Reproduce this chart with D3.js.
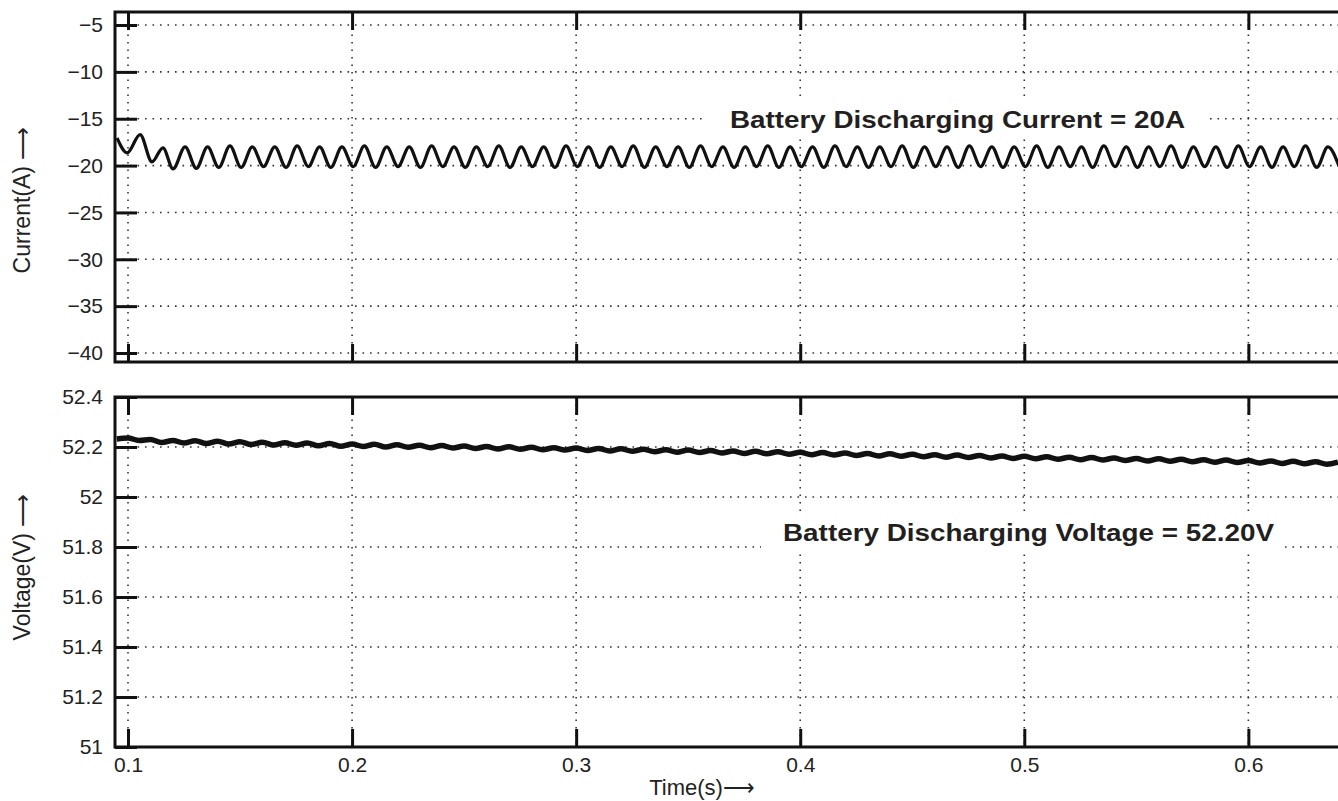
<!DOCTYPE html>
<html>
<head>
<meta charset="utf-8">
<script src="https://cdn.jsdelivr.net/npm/d3@7"></script>
<style>
  body { margin: 0; background: #fff; }
  svg { display: block; font-family: "Liberation Sans", Arial, Helvetica, sans-serif; }
</style>
</head>
<body>
<div id="chart"></div>
<script>
// Time ticks
const timeTicks = [0.1, 0.2, 0.3, 0.4, 0.5, 0.6];
const currentTicks = [-5, -10, -15, -20, -25, -30, -35, -40];
const voltageTicks = [52.4, 52.2, 52, 51.8, 51.6, 51.4, 51.2, 51];
const voltageGrid = [52.2, 52, 51.8, 51.6, 51.4, 51.2];

// Battery current: read at the peaks and troughs of the ripple
const currentTime = [
  0.0951, 0.0996, 0.1054, 0.1107, 0.1156, 0.1201,
  0.1255, 0.1305, 0.1355, 0.1405, 0.1455, 0.1505, 0.1555, 0.1605, 0.1655, 0.1705,
  0.1755, 0.1805, 0.1855, 0.1905, 0.1955, 0.2005, 0.2055, 0.2105, 0.2155, 0.2205,
  0.2255, 0.2305, 0.2355, 0.2405, 0.2455, 0.2505, 0.2555, 0.2605, 0.2655, 0.2705,
  0.2755, 0.2805, 0.2855, 0.2905, 0.2955, 0.3005, 0.3055, 0.3105, 0.3155, 0.3205,
  0.3255, 0.3305, 0.3355, 0.3405, 0.3455, 0.3505, 0.3555, 0.3605, 0.3655, 0.3705,
  0.3755, 0.3805, 0.3855, 0.3905, 0.3955, 0.4005, 0.4055, 0.4105, 0.4155, 0.4205,
  0.4255, 0.4305, 0.4355, 0.4405, 0.4455, 0.4505, 0.4555, 0.4605, 0.4655, 0.4705,
  0.4755, 0.4805, 0.4855, 0.4905, 0.4955, 0.5005, 0.5055, 0.5105, 0.5155, 0.5205,
  0.5255, 0.5305, 0.5355, 0.5405, 0.5455, 0.5505, 0.5555, 0.5605, 0.5655, 0.5705,
  0.5755, 0.5805, 0.5855, 0.5905, 0.5955, 0.6005, 0.6055, 0.6105, 0.6155, 0.6205,
  0.6255, 0.6305, 0.6355, 0.6405
];
const currentValue = [
  -17.05, -18.65, -16.7, -19.6, -18.1, -20.35,
  -18.0, -20.3, -18.0, -20.2, -17.9, -20.2, -18.0, -20.1, -18.0, -20.2,
  -17.9, -20.1, -18.0, -20.2, -18.0, -20.1, -17.9, -20.2, -18.0, -20.1,
  -18.0, -20.2, -17.9, -20.1, -18.0, -20.2, -18.0, -20.1, -17.9, -20.2,
  -18.0, -20.1, -18.0, -20.2, -17.9, -20.1, -18.0, -20.2, -18.0, -20.1,
  -17.9, -20.2, -18.0, -20.1, -18.0, -20.2, -17.9, -20.1, -18.0, -20.2,
  -18.0, -20.1, -17.9, -20.2, -18.0, -20.1, -18.0, -20.2, -17.9, -20.1,
  -18.0, -20.2, -18.0, -20.1, -17.9, -20.2, -18.0, -20.1, -18.0, -20.2,
  -17.9, -20.1, -18.0, -20.2, -18.0, -20.1, -17.9, -20.2, -18.0, -20.1,
  -18.0, -20.2, -17.9, -20.1, -18.0, -20.2, -18.0, -20.1, -17.9, -20.2,
  -18.0, -20.1, -18.0, -20.2, -17.9, -20.1, -18.0, -20.2, -18.0, -20.1,
  -17.9, -20.2, -18.0, -20.1
];

// Battery voltage: slow droop with a small ripple
const voltageTime = [
  0.095, 0.100, 0.105, 0.110, 0.115, 0.120, 0.125, 0.130, 0.135, 0.140,
  0.145, 0.150, 0.155, 0.160, 0.165, 0.170, 0.175, 0.180, 0.185, 0.190,
  0.195, 0.200, 0.205, 0.210, 0.215, 0.220, 0.225, 0.230, 0.235, 0.240,
  0.245, 0.250, 0.255, 0.260, 0.265, 0.270, 0.275, 0.280, 0.285, 0.290,
  0.295, 0.300, 0.305, 0.310, 0.315, 0.320, 0.325, 0.330, 0.335, 0.340,
  0.345, 0.350, 0.355, 0.360, 0.365, 0.370, 0.375, 0.380, 0.385, 0.390,
  0.395, 0.400, 0.405, 0.410, 0.415, 0.420, 0.425, 0.430, 0.435, 0.440,
  0.445, 0.450, 0.455, 0.460, 0.465, 0.470, 0.475, 0.480, 0.485, 0.490,
  0.495, 0.500, 0.505, 0.510, 0.515, 0.520, 0.525, 0.530, 0.535, 0.540,
  0.545, 0.550, 0.555, 0.560, 0.565, 0.570, 0.575, 0.580, 0.585, 0.590,
  0.595, 0.600, 0.605, 0.610, 0.615, 0.620, 0.625, 0.630, 0.635, 0.640
];
const voltageValue = [
  52.232, 52.236, 52.226, 52.230, 52.218, 52.226, 52.216, 52.225, 52.214, 52.223,
  52.212, 52.221, 52.210, 52.219, 52.208, 52.217, 52.207, 52.216, 52.205, 52.214,
  52.203, 52.212, 52.202, 52.211, 52.200, 52.209, 52.199, 52.207, 52.197, 52.206,
  52.196, 52.204, 52.194, 52.202, 52.192, 52.201, 52.191, 52.199, 52.189, 52.197,
  52.188, 52.196, 52.186, 52.194, 52.184, 52.193, 52.183, 52.191, 52.181, 52.189,
  52.179, 52.188, 52.178, 52.186, 52.176, 52.184, 52.174, 52.183, 52.173, 52.181,
  52.171, 52.179, 52.169, 52.178, 52.168, 52.176, 52.166, 52.174, 52.164, 52.173,
  52.163, 52.171, 52.161, 52.169, 52.159, 52.168, 52.158, 52.166, 52.156, 52.164,
  52.154, 52.163, 52.153, 52.161, 52.151, 52.159, 52.149, 52.158, 52.148, 52.156,
  52.146, 52.154, 52.144, 52.153, 52.143, 52.151, 52.141, 52.149, 52.139, 52.148,
  52.138, 52.146, 52.136, 52.144, 52.134, 52.143, 52.133, 52.141, 52.131, 52.139
];

const W = 1338, H = 801;
const left = 115, right = 1345;
const fmt = d => String(d).replace("-", "\u2212");

const svg = d3.select("#chart").append("svg")
  .attr("width", W)
  .attr("height", H);

const x = d3.scaleLinear().domain([0.0942, 0.640]).range([115, 1338]);
const yCur = d3.scaleLinear().domain([-40.96, -3.61]).range([362, 12]);
const yVol = d3.scaleLinear().domain([51, 52.4]).range([747, 397]);

function panel(y, yTicks, yGrid, top, bottom, showX) {
  const g = svg.append("g");

  // dotted grid
  g.selectAll(".hgrid").data(yGrid).enter().append("line")
    .attr("x1", left).attr("x2", right)
    .attr("y1", d => y(d)).attr("y2", d => y(d))
    .attr("stroke", "#333").attr("stroke-width", 1.6)
    .attr("stroke-dasharray", "1.6,5.9");
  g.selectAll(".vgrid").data(timeTicks).enter().append("line")
    .attr("x1", d => x(d)).attr("x2", d => x(d))
    .attr("y1", top).attr("y2", bottom)
    .attr("stroke", "#333").attr("stroke-width", 1.6)
    .attr("stroke-dasharray", "1.6,5.9");

  // left axis with inward ticks
  const ya = g.append("g")
    .attr("transform", `translate(${left},0)`)
    .call(d3.axisLeft(y).tickValues(yTicks).tickSize(-22).tickPadding(12).tickFormat(fmt));
  ya.select(".domain").remove();
  ya.selectAll(".tick line").attr("stroke", "#111").attr("stroke-width", 3);
  ya.selectAll(".tick text").attr("font-size", 21).attr("fill", "#222");

  // bottom and top time ticks
  const xb = g.append("g")
    .attr("transform", `translate(0,${bottom})`)
    .call(d3.axisBottom(x).tickValues(timeTicks).tickSize(-18).tickPadding(10)
      .tickFormat(showX ? d3.format(".1f") : () => ""));
  xb.select(".domain").remove();
  xb.selectAll(".tick line").attr("stroke", "#111").attr("stroke-width", 3);
  xb.selectAll(".tick text").attr("font-size", 21).attr("fill", "#222");

  const xt = g.append("g")
    .attr("transform", `translate(0,${top})`)
    .call(d3.axisTop(x).tickValues(timeTicks).tickSize(-18).tickFormat(() => ""));
  xt.select(".domain").remove();
  xt.selectAll(".tick line").attr("stroke", "#111").attr("stroke-width", 3);

  // frame (right side runs off the picture)
  g.append("path")
    .attr("d", `M${right},${top}H${left}V${bottom}H${right}`)
    .attr("fill", "none").attr("stroke", "#111").attr("stroke-width", 3);
  return g;
}

const gTop = panel(yCur, currentTicks, currentTicks, 12, 362, false);
const gBot = panel(yVol, voltageTicks, voltageGrid, 397, 747, true);

function note(g, txt, x0, x1, base, padL, padR) {
  const box = g.append("rect").attr("fill", "#fff");
  const t = g.append("text")
    .attr("x", x0).attr("y", base)
    .attr("font-size", 24).attr("font-weight", "bold").attr("fill", "#231f20")
    .attr("textLength", x1 - x0).attr("lengthAdjust", "spacingAndGlyphs")
    .text(txt);
  box.attr("x", x0 - padL).attr("y", base - 26)
    .attr("width", x1 - x0 + padL + padR).attr("height", 36);
}
note(gTop, "Battery Discharging Current = 20A", 730, 1185, 128, 27, 25);
note(gBot, "Battery Discharging Voltage = 52.20V", 783, 1274, 541, 22, 9);

// waveforms
const curData = currentTime.map((t, i) => ({ t: t, v: currentValue[i] }));
const volData = voltageTime.map((t, i) => ({ t: t, v: voltageValue[i] }));

svg.append("clipPath").attr("id", "clipTop")
  .append("rect").attr("x", 116).attr("y", 13).attr("width", 1230).attr("height", 348);
svg.append("clipPath").attr("id", "clipBot")
  .append("rect").attr("x", 116).attr("y", 398).attr("width", 1230).attr("height", 348);

svg.append("path")
  .datum(curData)
  .attr("clip-path", "url(#clipTop)")
  .attr("fill", "none").attr("stroke", "#111").attr("stroke-width", 3.2)
  .attr("stroke-linejoin", "round")
  .attr("d", d3.line().x(d => x(d.t)).y(d => yCur(d.v)).curve(d3.curveMonotoneX));

svg.append("path")
  .datum(volData)
  .attr("clip-path", "url(#clipBot)")
  .attr("fill", "none").attr("stroke", "#111").attr("stroke-width", 5.5)
  .attr("stroke-linejoin", "round")
  .attr("d", d3.line().x(d => x(d.t)).y(d => yVol(d.v)).curve(d3.curveMonotoneX));

// axis titles
svg.append("text")
  .attr("transform", "translate(30,200) rotate(-90)")
  .attr("text-anchor", "middle")
  .attr("font-size", 23).attr("fill", "#222")
  .text("Current(A) \u27f6");
svg.append("text")
  .attr("transform", "translate(30,567) rotate(-90)")
  .attr("text-anchor", "middle")
  .attr("font-size", 23).attr("fill", "#222")
  .text("Voltage(V) \u27f6");
svg.append("text")
  .attr("x", 702).attr("y", 795)
  .attr("text-anchor", "middle")
  .attr("font-size", 22).attr("fill", "#222")
  .text("Time(s)\u27f6");
</script>
</body>
</html>
